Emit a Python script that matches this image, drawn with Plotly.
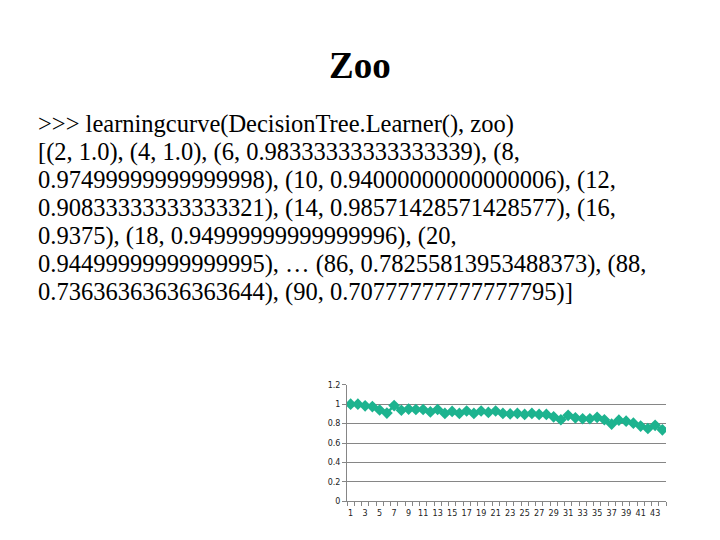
import plotly.graph_objects as go

# Data
sizes_index = list(range(1, 45))
accuracy = [1.0, 1.0, 0.983, 0.975, 0.94, 0.908, 0.986, 0.9375, 0.95, 0.945,
            0.945, 0.92, 0.945, 0.905, 0.925, 0.905, 0.93, 0.905, 0.93, 0.915,
            0.93, 0.905, 0.90, 0.905, 0.895, 0.905, 0.895, 0.895, 0.87, 0.84,
            0.885, 0.86, 0.85, 0.85, 0.865, 0.84, 0.795, 0.835, 0.825, 0.805,
            0.775, 0.75, 0.7826, 0.7364]
x_tick_labels = [str(i) for i in range(1, 45, 2)]
y_tick_vals = [0, 0.2, 0.4, 0.6, 0.8, 1.0, 1.2]
y_tick_text = ["0", "0.2", "0.4", "0.6", "0.8", "1", "1.2"]

title_text = "Zoo"
body_lines = [
    ">>> learningcurve(DecisionTree.Learner(), zoo)",
    "[(2, 1.0), (4, 1.0), (6, 0.98333333333333339), (8,",
    "0.97499999999999998), (10, 0.94000000000000006), (12,",
    "0.90833333333333321), (14, 0.98571428571428577), (16,",
    "0.9375), (18, 0.94999999999999996), (20,",
    "0.94499999999999995), \u2026 (86, 0.78255813953488373), (88,",
    "0.73636363636363644), (90, 0.70777777777777795)]",
]

SERIF = "Liberation Serif"

fig = go.Figure()
fig.add_trace(go.Scatter(
    x=sizes_index, y=accuracy, mode="lines+markers",
    line=dict(color="#1DB38F", width=2.5),
    marker=dict(symbol="diamond", size=9, color="#1DB38F"),
    showlegend=False,
))

W, H = 720, 540
x0, x1 = 339, 658
y_top, y_bot = 379, 497.7

fig.update_layout(
    width=W, height=H,
    margin=dict(l=0, r=0, t=0, b=0),
    paper_bgcolor="white", plot_bgcolor="white",
    xaxis=dict(
        domain=[x0 / W, x1 / W],
        range=[0.5, 44.5],
        tickmode="array",
        tickvals=list(range(1, 45, 2)),
        ticktext=x_tick_labels,
        ticks="outside", ticklen=4, tickcolor="rgba(0,0,0,0)",
        showgrid=False,
        showline=True, linecolor="#868686", linewidth=1,
        tickfont=dict(family="DejaVu Sans", size=8, color="#222"),
        minor=dict(tickmode="array", tickvals=[i + 0.5 for i in range(0, 45)],
                   ticks="outside", ticklen=4, tickcolor="#868686", showgrid=False),
        zeroline=False,
    ),
    yaxis=dict(
        domain=[(H - y_bot) / H, (H - y_top) / H],
        range=[0, 1.2005],
        tickmode="array", tickvals=y_tick_vals, ticktext=y_tick_text,
        showgrid=True, gridcolor="#868686", gridwidth=1,
        showline=True, linecolor="#868686", linewidth=1,
        ticks="outside", ticklen=4, tickcolor="#868686",
        tickfont=dict(family="DejaVu Sans", size=8, color="#222"),
        zeroline=False,
    ),
)

annotations = [dict(
    text="<b>" + title_text + "</b>", x=352 / W, y=1 - 54 / H, xref="paper", yref="paper",
    xanchor="center", yanchor="middle", showarrow=False,
    font=dict(family=SERIF, size=37, color="black"),
)]
for i, line in enumerate(body_lines):
    annotations.append(dict(
        text=line, x=28 / W, y=1 - (114 + i * 28.4) / H,
        xref="paper", yref="paper", xanchor="left", yanchor="middle",
        showarrow=False,
        font=dict(family=SERIF, size=24.5, color="black"),
    ))
fig.update_layout(annotations=annotations)

fig.write_html("out.html")
